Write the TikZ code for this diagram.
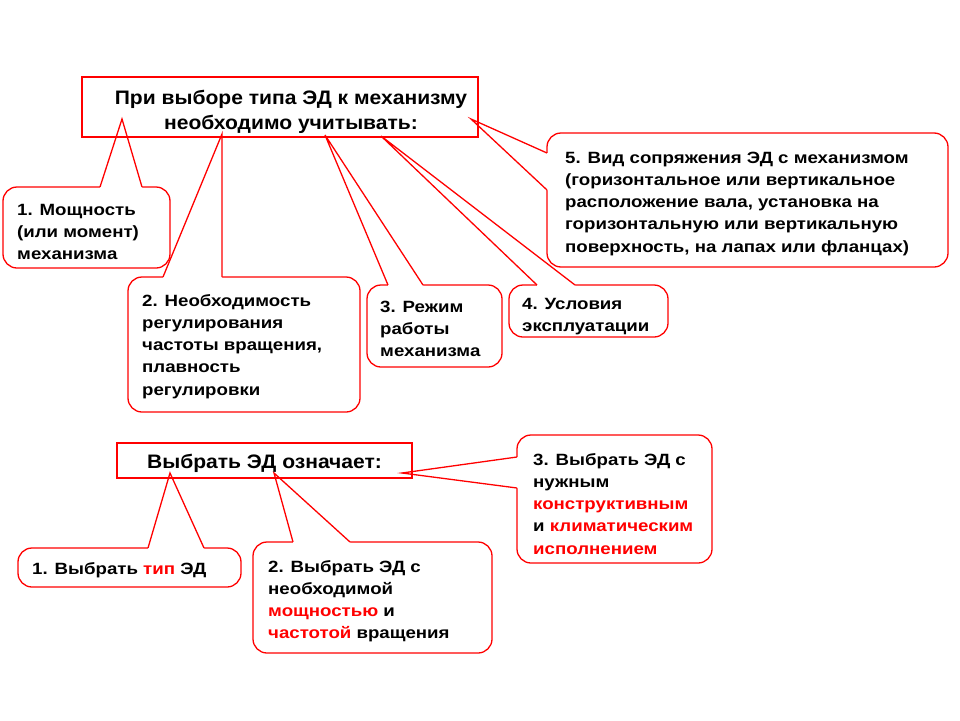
\documentclass[tikz,border=0pt]{standalone}
\usepackage{fontspec}
\setmainfont{Liberation Sans}[FakeStretch=1.145]
\newfontfamily\titlefont{Liberation Sans}[FakeStretch=1.08]
\usetikzlibrary{calc}
\newcommand\fs{\rule{0pt}{13pt}}
\newcommand\ft{\rule{0pt}{16pt}}
\newcommand\rd[1]{\textcolor{red}{#1}}
\tikzset{
  cbox/.style={draw=red, fill=white, line width=1.3pt, rounded corners=14pt},
  cline/.style={draw=red, line width=1.3pt, line join=miter},
  tbox/.style={draw=red, line width=1.3pt},
  txt/.style={anchor=north west, inner sep=0pt, align=left,
    font=\fontsize{16.3}{22.2}\selectfont\bfseries},
  ttl/.style={anchor=north, inner sep=0pt, align=center,
    font=\titlefont\fontsize{19.5}{25}\selectfont\bfseries}
}
% #1,#2 box corners, #3 tip, #4,#5 base points, #6 inward shift
\newcommand\mycallout[6]{%
  \filldraw[cbox] #1 rectangle #2;
  \fill[white] #4 -- #3 -- #5 -- ($#5+#6$) -- ($#4+#6$) -- cycle;
  \draw[cline] #4 -- #3 -- #5;
}
\begin{document}
\begin{tikzpicture}[x=1pt,y=-1pt]
\useasboundingbox[fill=white] (0,0) rectangle (960,720);

% upper callouts
\mycallout{(3,187)}{(170,268)}{(122,119)}{(100,187)}{(142,187)}{(0,2)}
\mycallout{(128,277)}{(360,412)}{(222,134)}{(163,277)}{(222,277)}{(0,2)}
\mycallout{(367,285)}{(502,367)}{(325,135)}{(388,285)}{(423,285)}{(0,2)}
\mycallout{(509,285)}{(668,337)}{(381,136)}{(537,285)}{(575,285)}{(0,2)}
\mycallout{(547,133)}{(948,267)}{(471,119)}{(547,153)}{(547,190)}{(2,0)}

% upper title
\draw[tbox] (82,77) rectangle (478,137);
\node[ttl] (title) at (291,88) {\ft При выборе типа ЭД к механизму\\необходимо учитывать:};

\node[txt] (c1) at (17,202) {\fs 1. Мощность\\(или момент)\\механизма};
\node[txt] (c2) at (142,293) {\fs 2. Необходимость\\регулирования\\частоты вращения,\\плавность\\регулировки};
\node[txt] (c3) at (380,299) {\fs 3. Режим\\работы\\механизма};
\node[txt] (c4) at (522,296) {\fs 4. Условия\\эксплуатации};
\node[txt] (c5) at (565,150) {\fs 5. Вид сопряжения ЭД с механизмом\\(горизонтальное или вертикальное\\расположение вала, установка на\\горизонтальную или вертикальную\\поверхность, на лапах или фланцах)};

% lower callouts
\mycallout{(18,548)}{(241,587)}{(170,473)}{(148,548)}{(204,548)}{(0,2)}
\mycallout{(253,542)}{(492,653)}{(274,473)}{(293,542)}{(350,542)}{(0,2)}
\mycallout{(517,435)}{(712,563)}{(402,473)}{(517,457)}{(517,488)}{(2,0)}

% lower title
\draw[tbox] (117,443) rectangle (412,478);
\node[ttl] (title2) at (264.5,452) {\ft Выбрать ЭД означает:};

\node[txt] (l1) at (32,561) {\fs 1. Выбрать \rd{тип} ЭД};
\node[txt] (l2) at (268,559) {\fs 2. Выбрать ЭД с\\необходимой\\\rd{мощностью} и\\\rd{частотой} вращения};
\node[txt] (l3) at (533,452) {\fs 3. Выбрать ЭД с\\нужным\\\rd{конструктивным}\\и \rd{климатическим}\\\rd{исполнением}};
\end{tikzpicture}
\end{document}
